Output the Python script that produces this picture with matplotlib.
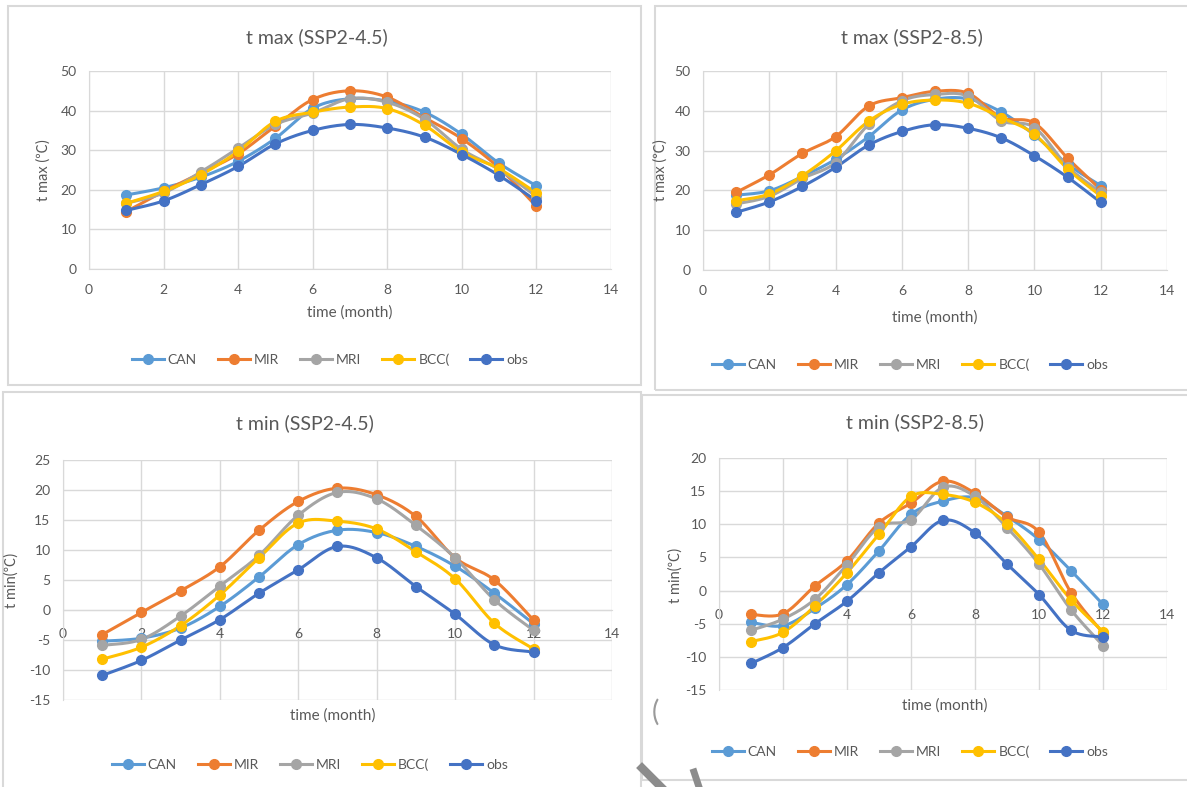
import numpy as np
import matplotlib
matplotlib.use("Agg")
import matplotlib.pyplot as plt
from matplotlib.patches import Rectangle
from matplotlib.lines import Line2D

plt.rcParams['font.family'] = ['Lato', 'Noto Sans CJK SC', 'DejaVu Sans']
plt.rcParams['axes.unicode_minus'] = False

months = [1, 2, 3, 4, 5, 6, 7, 8, 9, 10, 11, 12]
series_names = ["CAN", "MIR", "MRI", "BCC(", "obs"]

# t max SSP2-4.5
tmax45_can = [18.7, 20.5, 23.2, 27.2, 33.0, 40.6, 43.0, 42.4, 39.6, 34.0, 26.7, 21.0]
tmax45_mir = [14.5, 19.6, 24.2, 29.1, 36.1, 42.8, 45.0, 43.4, 38.2, 32.9, 25.5, 15.8]
tmax45_mri = [16.6, 19.2, 24.5, 30.5, 36.5, 39.4, 43.0, 42.1, 37.8, 30.2, 25.1, 18.3]
tmax45_bcc = [16.6, 19.6, 23.8, 29.7, 37.3, 39.6, 40.9, 40.5, 36.3, 29.5, 25.3, 19.2]
tmax45_obs = [14.8, 17.2, 21.3, 25.9, 31.6, 35.0, 36.5, 35.6, 33.3, 28.9, 23.6, 17.2]

# t max SSP2-8.5
tmax85_can = [18.8, 19.9, 23.5, 27.8, 33.5, 40.2, 42.9, 43.0, 39.7, 33.9, 26.6, 21.2]
tmax85_mir = [19.5, 23.9, 29.3, 33.5, 41.2, 43.3, 44.9, 44.4, 38.3, 36.9, 28.1, 20.2]
tmax85_mri = [16.6, 18.5, 23.0, 27.0, 36.6, 42.5, 44.1, 43.7, 37.5, 35.8, 26.0, 19.5]
tmax85_bcc = [17.4, 19.1, 23.7, 29.9, 37.4, 41.6, 42.7, 41.9, 38.3, 34.1, 25.4, 18.6]
tmax85_obs = [14.5, 17.1, 21.0, 25.8, 31.4, 34.8, 36.5, 35.6, 33.2, 28.7, 23.3, 17.0]

# t min SSP2-4.5
tmin45_can = [-5.2, -4.7, -3.0, 0.6, 5.5, 10.9, 13.3, 12.9, 10.6, 7.3, 2.8, -2.3]
tmin45_mir = [-4.1, -0.4, 3.2, 7.2, 13.3, 18.1, 20.3, 19.2, 15.6, 8.7, 5.0, -1.7]
tmin45_mri = [-5.9, -4.9, -1.0, 4.0, 9.1, 15.8, 19.6, 18.5, 14.1, 8.7, 1.7, -3.4]
tmin45_bcc = [-8.2, -6.2, -2.6, 2.5, 8.7, 14.5, 14.8, 13.5, 9.7, 5.2, -2.2, -6.5]
tmin45_obs = [-10.9, -8.4, -5.0, -1.6, 2.8, 6.7, 10.6, 8.7, 3.9, -0.7, -5.8, -7.0]

# t min SSP2-8.5
tmin85_can = [-4.8, -5.3, -2.7, 0.9, 6.0, 11.5, 13.5, 14.0, 11.2, 7.7, 3.0, -2.1]
tmin85_mir = [-3.6, -3.5, 0.7, 4.5, 10.2, 13.2, 16.5, 14.7, 11.1, 8.8, -0.3, -6.4]
tmin85_mri = [-6.0, -4.3, -1.3, 3.9, 9.6, 10.7, 15.6, 14.2, 9.5, 4.0, -2.9, -8.3]
tmin85_bcc = [-7.7, -6.3, -2.3, 2.7, 8.5, 14.2, 14.5, 13.3, 10.1, 4.7, -1.4, -6.2]
tmin85_obs = [-11.0, -8.6, -5.0, -1.6, 2.7, 6.6, 10.6, 8.7, 4.0, -0.6, -6.0, -7.0]

colors = ["#5B9BD5", "#ED7D31", "#A5A5A5", "#FFC000", "#4472C4"]
TXT = "#595959"
GRID = "#D9D9D9"

W, H = 1187, 787
fig = plt.figure(figsize=(W / 100, H / 100), dpi=100)


def smooth(x, y, n=24):
    x = np.asarray(x, float)
    y = np.asarray(y, float)
    P = np.column_stack([x, y])
    out = []
    for i in range(len(P) - 1):
        p0 = P[i - 1] if i > 0 else P[i]
        p1 = P[i]
        p2 = P[i + 1]
        p3 = P[i + 2] if i + 2 < len(P) else P[i + 1]
        c1 = p1 + (p2 - p0) / 6.0
        c2 = p2 - (p3 - p1) / 6.0
        t = np.linspace(0, 1, n)[:, None]
        seg = ((1 - t) ** 3) * p1 + 3 * ((1 - t) ** 2) * t * c1 + 3 * (1 - t) * t ** 2 * c2 + t ** 3 * p2
        out.append(seg if i == 0 else seg[1:])
    out = np.vstack(out)
    return out[:, 0], out[:, 1]


def box(x0, y0, x1, y1):
    fig.patches.append(Rectangle((x0 / W, 1 - y1 / H), (x1 - x0) / W, (y1 - y0) / H,
                                 transform=fig.transFigure, fill=False,
                                 edgecolor=GRID, linewidth=1.5, zorder=0))


def panel(px, py, data, ylim, ystep, title, title_xy, ylabel, ylabel_xy,
          xlabel_xy, legend_xy, zero_axis):
    x0, x1 = px
    y0, y1 = py
    ax = fig.add_axes([x0 / W, 1 - y1 / H, (x1 - x0) / W, (y1 - y0) / H])
    for vals, c, name in zip(data, colors, series_names):
        sx, sy = smooth(months, vals)
        ax.plot(sx, sy, color=c, lw=2.2, solid_capstyle='round', zorder=3)
        ax.plot(months, vals, 'o', color=c, ms=7, zorder=4)
    ax.set_xlim(0, 14)
    ax.set_ylim(*ylim)
    ax.set_xticks(np.arange(0, 15, 2))
    ax.set_yticks(np.arange(ylim[0], ylim[1] + 0.1, ystep))
    ax.grid(True, color=GRID, lw=1)
    ax.set_axisbelow(True)
    for s in ['top', 'right']:
        ax.spines[s].set_visible(False)
    ax.spines['left'].set_color(GRID)
    ax.spines['bottom'].set_color(GRID)
    if zero_axis:
        ax.spines['bottom'].set_position(('data', 0))
        ax.tick_params(axis='x', pad=13)
    else:
        ax.tick_params(axis='x', pad=11)
    ax.tick_params(axis='y', pad=9)
    ax.tick_params(length=0, colors=TXT, labelsize=10)
    fig.text(title_xy[0] / W, 1 - title_xy[1] / H, title, fontsize=14, color=TXT,
             ha='center', va='center')
    fig.text(ylabel_xy[0] / W, 1 - ylabel_xy[1] / H, ylabel, fontsize=10.5, color=TXT,
             ha='center', va='center', rotation=90,
             family=['Lato', 'Noto Sans CJK SC', 'DejaVu Sans'])
    fig.text(xlabel_xy[0] / W, 1 - xlabel_xy[1] / H, "time (month)", fontsize=11,
             color=TXT, ha='center', va='center')
    handles = [Line2D([0], [0], color=c, lw=2.2, marker='o', ms=7) for c in colors]
    fig.legend(handles, series_names, loc='center', ncol=5, frameon=False,
               bbox_to_anchor=(legend_xy[0] / W, 1 - legend_xy[1] / H),
               fontsize=10, labelcolor=TXT, handlelength=2.3, columnspacing=1.5,
               handletextpad=0.3)
    return ax


box(8, 6, 641, 385)
box(655, 6, 1190, 390)
box(3, 392, 641, 792)
box(642, 395, 1190, 780)

panel((89, 611), (71, 269),
      [tmax45_can, tmax45_mir, tmax45_mri, tmax45_bcc, tmax45_obs],
      (0, 50), 10, "t max (SSP2-4.5)", (317, 37), "t max (\u2103)", (44, 170),
      (350, 313), (330, 360), False)

panel((703, 1167), (71, 270),
      [tmax85_can, tmax85_mir, tmax85_mri, tmax85_bcc, tmax85_obs],
      (0, 50), 10, "t max (SSP2-8.5)", (912, 37), "t max (\u2103)", (661, 170),
      (935, 318), (910, 365), False)

panel((63, 612), (460, 700),
      [tmin45_can, tmin45_mir, tmin45_mri, tmin45_bcc, tmin45_obs],
      (-15, 25), 5, "t min (SSP2-4.5)", (305, 423), "t min(\u2103)", (12, 580),
      (333, 716), (310, 765), True)

panel((719, 1167), (458, 690),
      [tmin85_can, tmin85_mir, tmin85_mri, tmin85_bcc, tmin85_obs],
      (-15, 20), 5, "t min (SSP2-8.5)", (915, 422), "t min(\u2103)", (676, 575),
      (945, 706), (910, 752), True)

# grey fragments visible at the bottom of the screenshot
fig.add_artist(Line2D([642 / W, 664 / W], [1 - 768 / H, 1 - 790 / H],
                      color="#8C8C8C", lw=6, transform=fig.transFigure))
fig.add_artist(Line2D([694 / W, 700 / W], [1 - 772 / H, 1 - 790 / H],
                      color="#8C8C8C", lw=5, transform=fig.transFigure))
fig.text(655 / W, 1 - 712 / H, "(", fontsize=20, color="#9A9A9A",
         ha='center', va='center')

fig.savefig("out.png", dpi=100)
